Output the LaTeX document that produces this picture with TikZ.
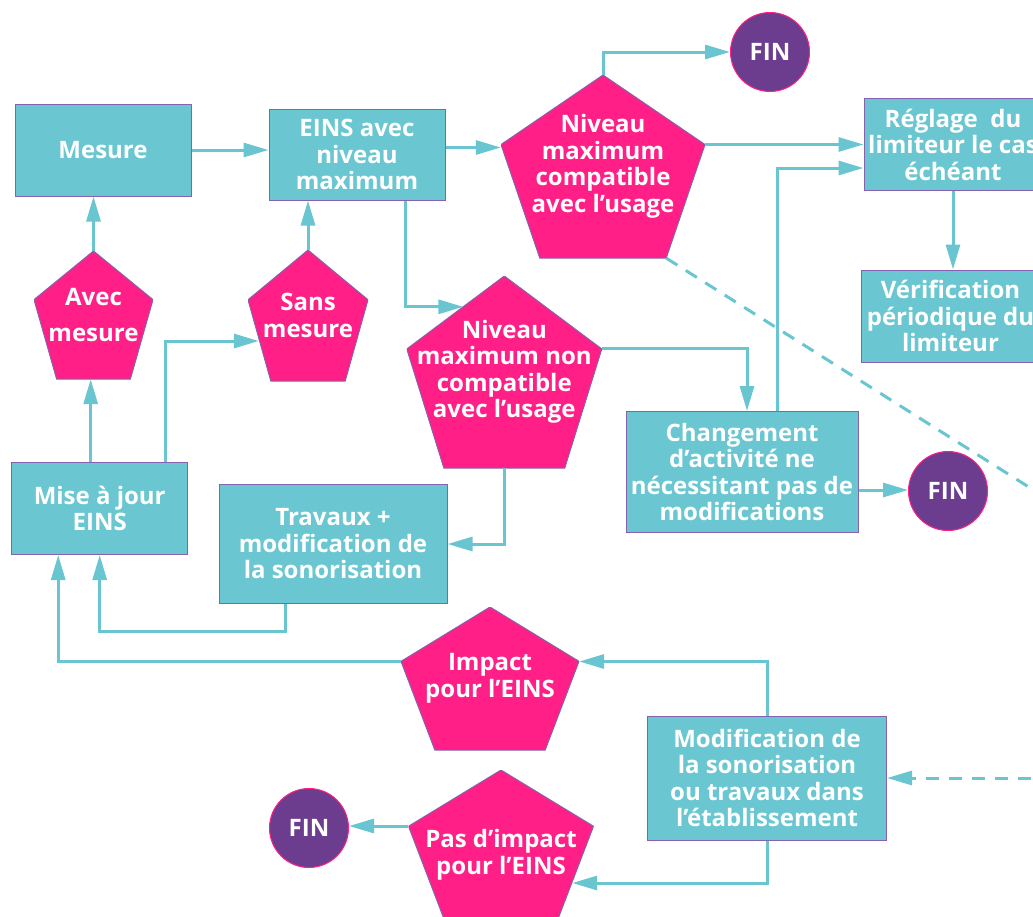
\documentclass[tikz,border=0pt]{standalone}
\usepackage{fontspec}
\setmainfont{Open Sans}
\usepackage{tikz}
\usetikzlibrary{arrows.meta,calc}

\definecolor{boxteal}{HTML}{6AC7D1}
\definecolor{linkteal}{HTML}{69C6D0}
\definecolor{decpink}{HTML}{FF1F86}
\definecolor{finviolet}{HTML}{6C3C8E}
\definecolor{rim}{HTML}{8662AE}

\begin{document}
\begin{tikzpicture}[x=1pt, y=-1pt,
  box/.style={rectangle, draw=rim, line width=1pt, fill=boxteal, text=white, align=center, inner sep=0pt, font=\bfseries\fontsize{24}{26.5}\selectfont},
  decision/.style={rectangle, inner sep=0pt, text=white, align=center, font=\bfseries\fontsize{24}{26.5}\selectfont,
    path picture={\filldraw[draw=rim, fill=decpink, line width=1pt]
      (path picture bounding box.north)
      -- ($(path picture bounding box.north east)!.38!(path picture bounding box.south east)$)
      -- ($(path picture bounding box.south east)!.19!(path picture bounding box.south west)$)
      -- ($(path picture bounding box.south west)!.19!(path picture bounding box.south east)$)
      -- ($(path picture bounding box.north west)!.38!(path picture bounding box.south west)$)
      -- cycle;}},
  fin/.style={circle, draw=decpink, line width=1pt, fill=finviolet, text=white, minimum size=79pt, inner sep=0pt, font=\bfseries\fontsize{24}{26.5}\selectfont},
  arrow/.style={-{Triangle[length=25pt,width=14pt]}, draw=linkteal, line width=3pt},
  dashline/.style={draw=linkteal, line width=3pt, dash pattern=on 13pt off 10pt},
  dasharrow/.style={arrow, dash pattern=on 13pt off 10pt}]
\useasboundingbox (0,0) rectangle (1033,916);
\clip (0,0) rectangle (1033,916);

% top row
\node[box, minimum width=176pt, minimum height=92pt] (mesure) at (103,150) {Mesure};
\node[box, minimum width=176pt, minimum height=91pt] (eins) at (357,154.5) {EINS avec\\niveau\\maximum};
\node[decision, minimum width=204pt, minimum height=183pt] (cpt) at (603,166.5) {Niveau\\maximum\\compatible\\avec l’usage};
\node[fin] (fin1) at (770,52) {FIN};
\node[box, minimum width=178pt, minimum height=92pt] (reglage) at (953,144.5) {Réglage \ du\\limiteur le cas\\échéant};
\node[box, minimum width=179pt, minimum height=92pt] (verif) at (950.5,316) {Vérification\\périodique du\\limiteur};

% middle
\node[decision, minimum width=119pt, minimum height=128pt] (avec) at (93.5,315) {Avec\\[10pt]mesure};
\node[decision, minimum width=120pt, minimum height=131pt] (sans) at (308,315.5) {Sans\\mesure};
\node[decision, minimum width=195pt, minimum height=192pt] (nnc) at (504.3,372) {Niveau\\maximum non\\compatible\\avec l’usage};
\node[box, minimum width=232pt, minimum height=121pt] (chg) at (742,472) {Changement\\d’activité ne\\nécessitant pas de\\modifications};
\node[fin] (fin2) at (948,491) {FIN};
\node[box, minimum width=176pt, minimum height=92pt] (maj) at (99.7,508.5) {Mise à jour\\EINS};
\node[box, minimum width=228pt, minimum height=119pt] (trav) at (333,544) {Travaux +\\modification de\\la sonorisation};

% bottom
\node[decision, minimum width=178pt, minimum height=143pt] (impact) at (490,678.5) {Impact\\pour l’EINS};
\node[box, minimum width=239pt, minimum height=124pt] (modif) at (767,778) {Modification de\\la sonorisation\\ou travaux dans\\l’établissement};
\node[decision, minimum width=185pt, minimum height=148pt] (pas) at (501,844) {\rule{0pt}{40pt}Pas d’impact\\pour l’EINS};
\node[fin] (fin3) at (309,828) {FIN};

\coordinate (off1) at (1100,532);
\coordinate (off2) at (1100,778);

\draw[arrow] (mesure.east) -- (mesure.east -| eins.west);
\draw[arrow] ([yshift=7pt]eins.east) -- ([yshift=7pt]eins.east -| cpt.west);
\draw[arrow] (cpt.north) |- (fin1.west);
\draw[arrow] (cpt.east |- reglage.west) -- (reglage.west);
\draw[arrow] (reglage.south) -- (reglage.south |- verif.north);
\draw[arrow] ([xshift=48pt]eins.south) |- ([xshift=-41pt,yshift=-31pt]nnc.north);
\draw[arrow] ([yshift=24pt]nnc.east) -| ([xshift=5pt]chg.north);
\draw[arrow] ([xshift=35pt]chg.north) |- ([yshift=-23.5pt]reglage.west);
\draw[arrow] ([yshift=-18pt]chg.east) -- ([yshift=-18pt]chg.east -| fin2.west);
\draw[dashline] ($(cpt.south east)!.19!(cpt.south west)$) -- (off1);
\draw[arrow] ([xshift=-9pt]maj.north) -- ([xshift=-9pt]maj.north |- avec.south);
\draw[arrow] (avec.north) -- (avec.north |- mesure.south);
\draw[arrow] ([xshift=66pt]maj.north) |- ([xshift=11pt,yshift=-25.5pt]sans.west);
\draw[arrow] (sans.north) -- (sans.north |- eins.south);
\draw[arrow] (nnc.south) |- (trav.east);
\draw[arrow] ([xshift=-48pt]trav.south) -- ++(0,27) -| (maj.south);
\draw[arrow] ([yshift=17pt]impact.west) -| ([xshift=-41.5pt]maj.south);
\draw[arrow] (modif.north) |- ([yshift=17pt]impact.east);
\draw[arrow] (modif.south) |- ([xshift=-21.5pt,yshift=-39pt]pas.east);
\draw[arrow] ([yshift=18pt]pas.west) -- ([yshift=18pt]pas.west -| fin3.east);
\draw[dasharrow] (off2) -- (modif.east);
\end{tikzpicture}
\end{document}
